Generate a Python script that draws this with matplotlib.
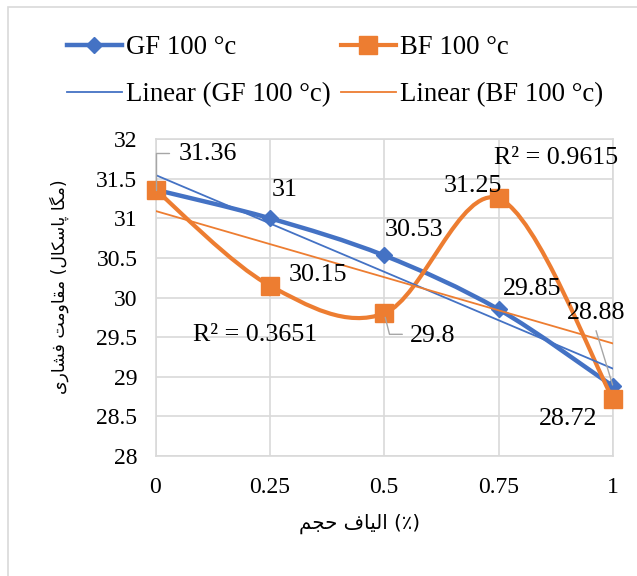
import numpy as np
import matplotlib
matplotlib.use('Agg')
import matplotlib.pyplot as plt
from matplotlib.path import Path
from matplotlib.patches import PathPatch, Rectangle
from matplotlib.lines import Line2D

# داده‌ها
fiber = [0, 0.25, 0.5, 0.75, 1]
gf_100 = [31.36, 31, 30.53, 29.85, 28.88]
bf_100 = [31.36, 30.15, 29.8, 31.25, 28.72]
gf_name = 'GF 100 °c'
bf_name = 'BF 100 °c'
r2_text = {'gf': 'R² = 0.9615', 'bf': 'R² = 0.3651'}

x_ticks = [0, 0.25, 0.5, 0.75, 1]
x_tick_labels = ['0', '0.25', '0.5', '0.75', '1']
y_ticks = [28, 28.5, 29, 29.5, 30, 30.5, 31, 31.5, 32]
y_tick_labels = ['28', '28.5', '29', '29.5', '30', '30.5', '31', '31.5', '32']

BLUE = '#4472C4'
ORANGE = '#ED7D31'
GRID = '#D9D9D9'
LEADER = '#A6A6A6'
SERIF = 'Liberation Serif'
FS = 18.7  # اندازه قلم برچسب‌ها

# شکل‌دهی ساده حروف فارسی (matplotlib خودش اتصال حروف را انجام نمی‌دهد)
FORMS = {
    'ا': ('\uFE8D', '\uFE8E', None, None),
    'ت': ('\uFE95', '\uFE96', '\uFE97', '\uFE98'),
    'ج': ('\uFE9D', '\uFE9E', '\uFE9F', '\uFEA0'),
    'ح': ('\uFEA1', '\uFEA2', '\uFEA3', '\uFEA4'),
    'ر': ('\uFEAD', '\uFEAE', None, None),
    'س': ('\uFEB1', '\uFEB2', '\uFEB3', '\uFEB4'),
    'ش': ('\uFEB5', '\uFEB6', '\uFEB7', '\uFEB8'),
    'ف': ('\uFED1', '\uFED2', '\uFED3', '\uFED4'),
    'ق': ('\uFED5', '\uFED6', '\uFED7', '\uFED8'),
    'ل': ('\uFEDD', '\uFEDE', '\uFEDF', '\uFEE0'),
    'م': ('\uFEE1', '\uFEE2', '\uFEE3', '\uFEE4'),
    'و': ('\uFEED', '\uFEEE', None, None),
    'پ': ('\uFB56', '\uFB57', '\uFB58', '\uFB59'),
    'ک': ('\uFB8E', '\uFB8F', '\uFB90', '\uFB91'),
    'گ': ('\uFB92', '\uFB93', '\uFB94', '\uFB95'),
    'ی': ('\uFBFC', '\uFBFD', '\uFBFE', '\uFBFF'),
}


def shape(word):
    out = []
    n = len(word)
    for i, ch in enumerate(word):
        iso, fin, ini, med = FORMS[ch]
        jp = i > 0 and FORMS[word[i - 1]][2] is not None
        jn = i < n - 1 and ini is not None
        if jp and jn:
            out.append(med)
        elif jp:
            out.append(fin)
        elif jn:
            out.append(ini)
        else:
            out.append(iso)
    return ''.join(reversed(out))


y_label = shape('فشاری') + ' ' + shape('مقاومت') + ' (' + shape('پاسکال') + ' ' + shape('مگا') + ')'
x_label = shape('حجم') + ' ' + shape('الیاف') + ' (٪)'


def smooth_path(xs, ys):
    # منحنی بزیه مثل خط صاف‌شده اکسل
    p = list(zip(xs, ys))
    verts = [p[0]]
    codes = [Path.MOVETO]
    for i in range(len(p) - 1):
        p0 = p[i - 1] if i > 0 else p[i]
        p1, p2 = p[i], p[i + 1]
        p3 = p[i + 2] if i + 2 < len(p) else p[i + 1]
        c1 = (p1[0] + (p2[0] - p0[0]) / 6, p1[1] + (p2[1] - p0[1]) / 6)
        c2 = (p2[0] - (p3[0] - p1[0]) / 6, p2[1] - (p3[1] - p1[1]) / 6)
        verts += [c1, c2, p2]
        codes += [Path.CURVE4] * 3
    return Path(verts, codes)


fig = plt.figure(figsize=(6.37, 5.76), dpi=100)
fig.patch.set_facecolor('white')
fig.add_artist(Rectangle((8 / 637, -0.1), 1.2, 1.1 - 7 / 576, transform=fig.transFigure,
                         fill=False, edgecolor=GRID, lw=1.2))

ax = fig.add_axes([155.5 / 637, 1 - 456 / 576, 457.5 / 637, 317 / 576])
ax.set_xlim(0, 1)
ax.set_ylim(28, 32)
ax.set_xticks(x_ticks)
ax.set_xticklabels(x_tick_labels, fontfamily=SERIF, fontsize=17)
ax.set_yticks(y_ticks)
ax.set_yticklabels(y_tick_labels, fontfamily=SERIF, fontsize=17)
ax.tick_params(length=0, pad=13)
ax.tick_params(axis='x', pad=15)
ax.grid(True, color=GRID, lw=1.2)
ax.set_axisbelow(True)
for s in ax.spines.values():
    s.set_color(GRID)
    s.set_linewidth(1.2)

# خطوط صاف‌شده
ax.add_patch(PathPatch(smooth_path(fiber, gf_100), fill=False, edgecolor=BLUE, lw=3.2,
                       capstyle='round', zorder=3))
ax.plot(fiber, gf_100, ls='none', marker='D', ms=8.5, color=BLUE, zorder=4, clip_on=False)
ax.add_patch(PathPatch(smooth_path(fiber, bf_100), fill=False, edgecolor=ORANGE, lw=3.0,
                       capstyle='round', zorder=5))
ax.plot(fiber, bf_100, ls='none', marker='s', ms=13, color=ORANGE, zorder=6, clip_on=False)

# خطوط روند
xs = np.array(fiber)
for vals, col in [(gf_100, BLUE), (bf_100, ORANGE)]:
    k, b = np.polyfit(xs, vals, 1)
    ax.plot([xs[0], xs[-1]], [k * xs[0] + b, k * xs[-1] + b], color=col, lw=1.3, zorder=7)

# برچسب داده‌ها
labels = [
    (fiber[0], bf_100[0], '31.36', (37.8, 25.9)),
    (fiber[1], gf_100[1], '31', (10.8, 20.2)),
    (fiber[2], gf_100[2], '30.53', (21.6, 18.4)),
    (fiber[3], gf_100[3], '29.85', (23.8, 14.4)),
    (fiber[4], gf_100[4], '28.88', (-12.2, 53)),
    (fiber[1], bf_100[1], '30.15', (34.6, 7.9)),
    (fiber[2], bf_100[2], '29.8', (34.6, -16.6)),
    (fiber[3], bf_100[3], '31.25', (-18.7, 8.6)),
    (fiber[4], bf_100[4], '28.72', (-32.4, -14.8)),
]
for x, y, t, off in labels:
    ax.annotate(t, (x, y), xytext=off, textcoords='offset points', ha='center', va='center',
                fontfamily=SERIF, fontsize=FS, zorder=8, annotation_clip=False)

# خطوط راهنما
ax.annotate('', (fiber[0], bf_100[0]), xytext=(9.7, 26.6), textcoords='offset points',
            arrowprops=dict(arrowstyle='-', color=LEADER, lw=1, shrinkA=0, shrinkB=0,
                            connectionstyle='angle,angleA=0,angleB=90,rad=0'), zorder=8)
ax.annotate('', (fiber[2], bf_100[2]), xytext=(13, -15.1), textcoords='offset points',
            arrowprops=dict(arrowstyle='-', color=LEADER, lw=1, shrinkA=0, shrinkB=3,
                            connectionstyle='angle,angleA=0,angleB=-76,rad=0'), zorder=8)
ax.annotate('', (fiber[4], gf_100[4]), xytext=(-12.2, 40), textcoords='offset points',
            arrowprops=dict(arrowstyle='-', color=LEADER, lw=1, shrinkA=0, shrinkB=1),
            zorder=8, annotation_clip=False)

ax.text(0.875, 31.76, r2_text['gf'], ha='center', va='center', fontfamily=SERIF, fontsize=FS, zorder=8)
ax.text(0.2175, 29.525, r2_text['bf'], ha='center', va='center', fontfamily=SERIF, fontsize=FS, zorder=8)

ax.set_ylabel(y_label, fontfamily='DejaVu Sans', fontsize=12.4)
ax.yaxis.set_label_coords(-0.189, 0.533)
ax.set_xlabel(x_label, fontfamily='DejaVu Sans', fontsize=14.2)
ax.xaxis.set_label_coords(0.445, -0.183)

# راهنما
handles = [
    Line2D([], [], color=BLUE, lw=3.2, marker='D', ms=8.5),
    Line2D([], [], color=BLUE, lw=1.3),
    Line2D([], [], color=ORANGE, lw=3.0, marker='s', ms=13),
    Line2D([], [], color=ORANGE, lw=1.3),
]
names = [gf_name, 'Linear (' + gf_name + ')', bf_name, 'Linear (' + bf_name + ')']
fig.legend(handles, names, ncol=2, loc='upper left', bbox_to_anchor=(67 / 637, 1 - 35 / 576),
           frameon=False, borderpad=0, borderaxespad=0, handlelength=2.05, handletextpad=0.15,
           columnspacing=0.38, labelspacing=0.82, prop={'family': SERIF, 'size': 19.3})

fig.savefig('out.png', dpi=100, facecolor='white')
